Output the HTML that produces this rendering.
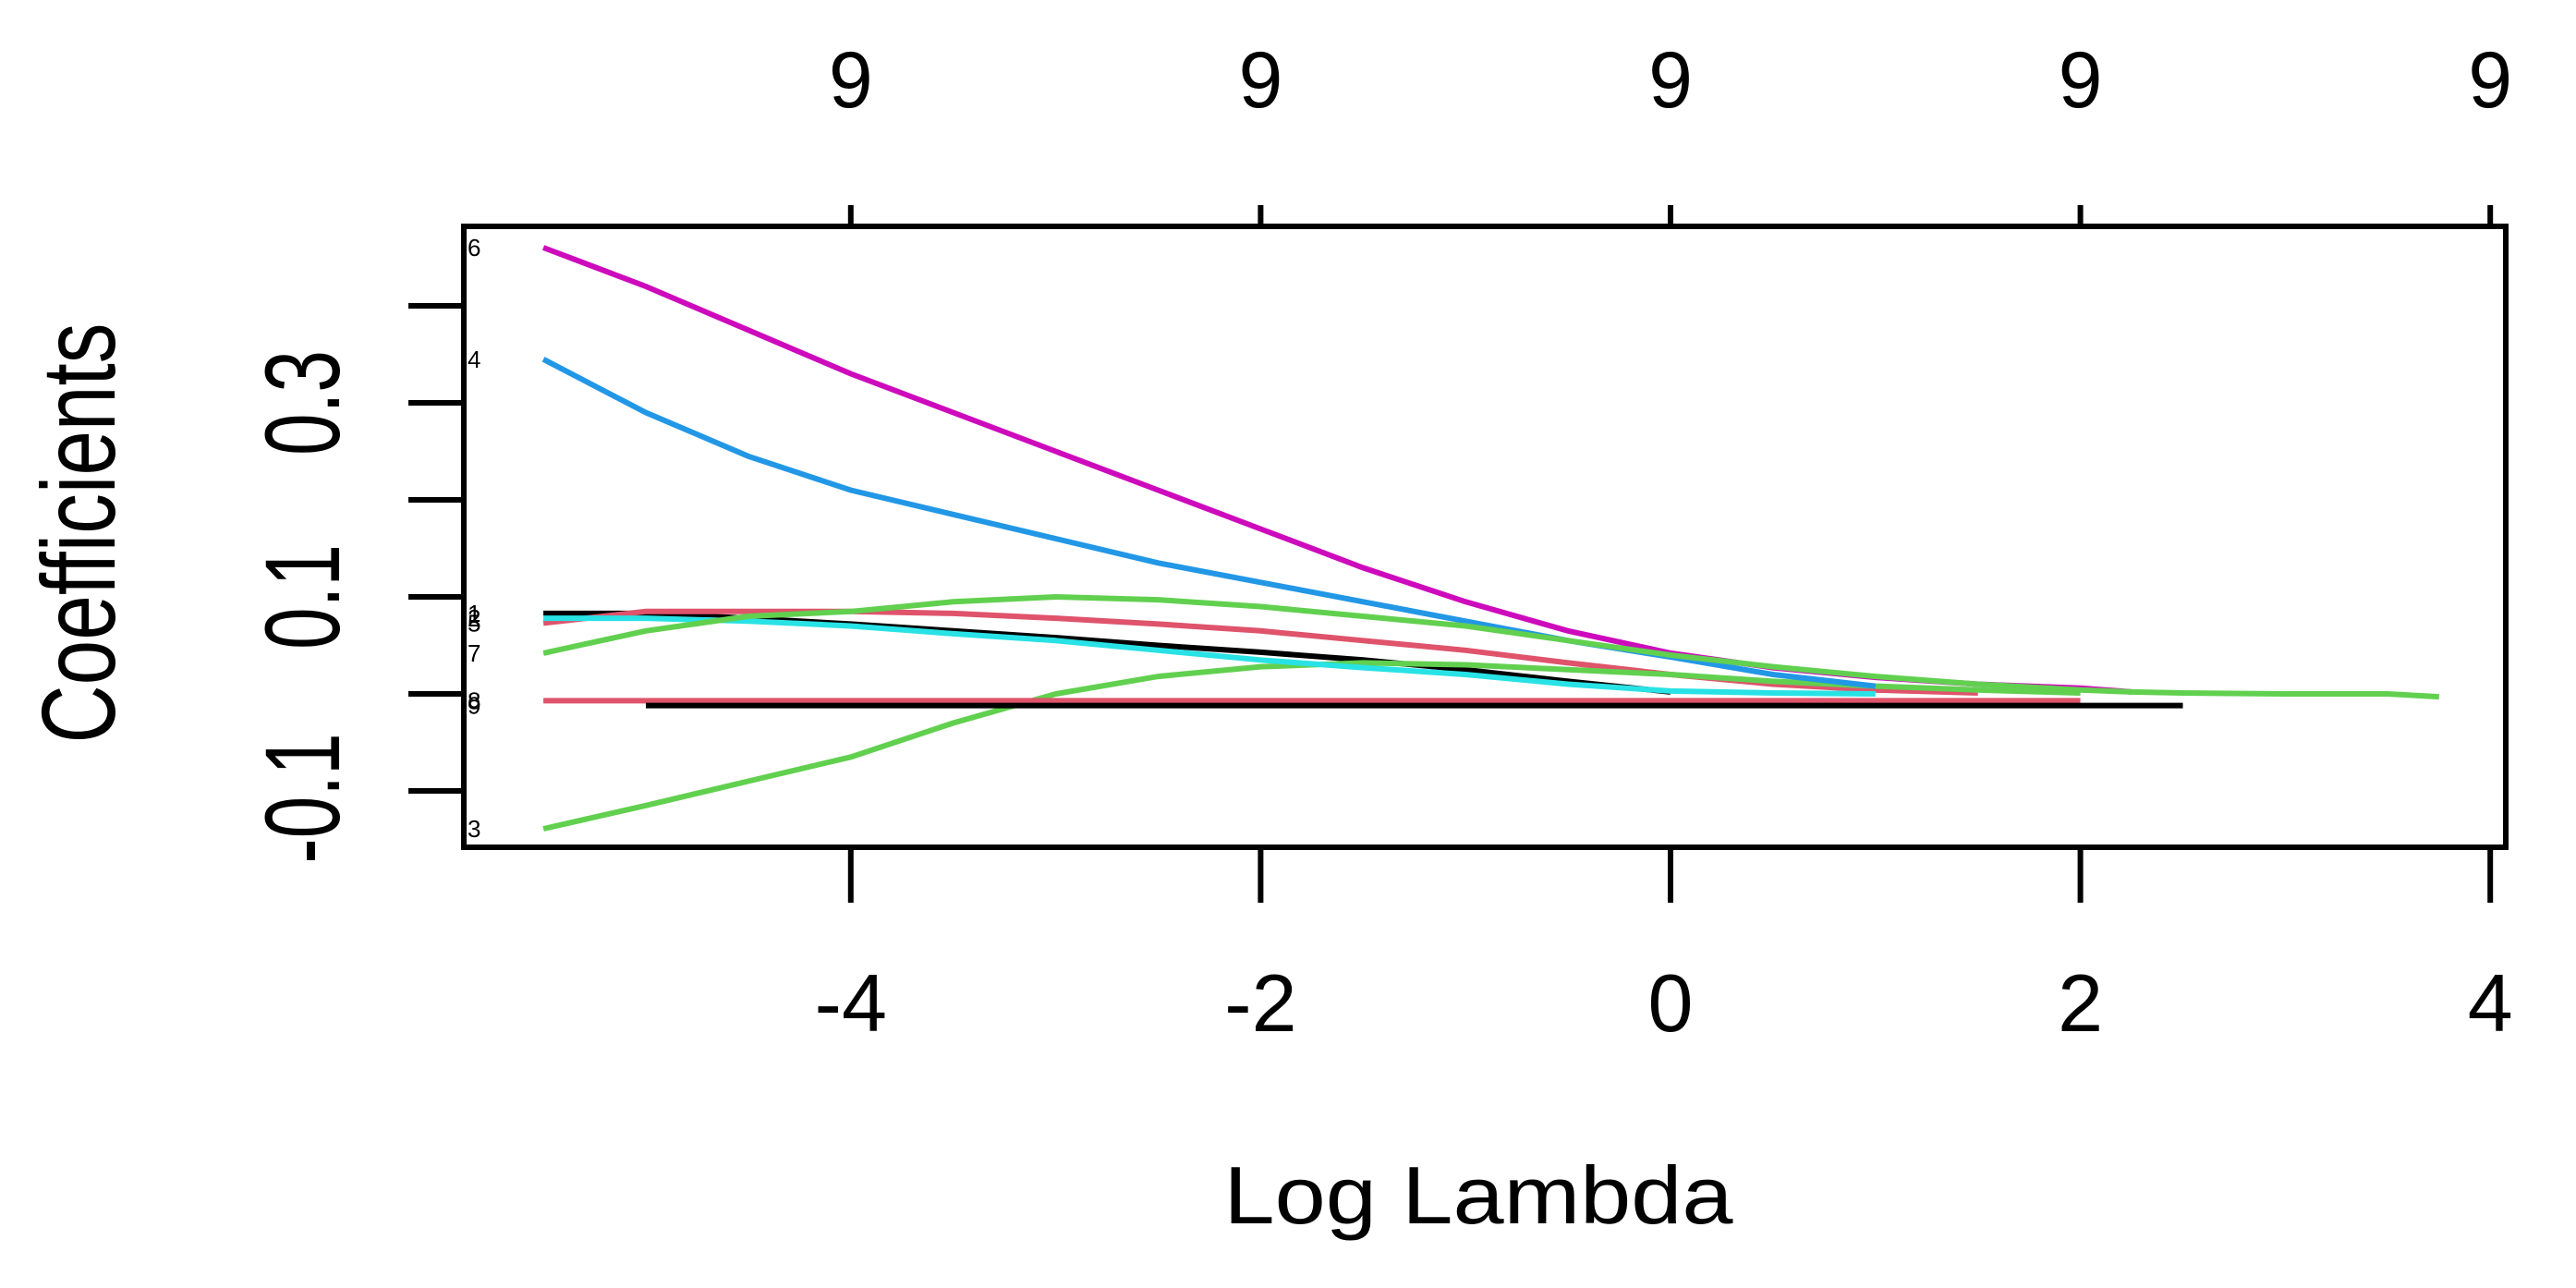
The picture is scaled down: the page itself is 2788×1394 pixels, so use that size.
<!DOCTYPE html>
<html><head><meta charset="utf-8"><style>
html,body{margin:0;padding:0;background:#fff}
svg{display:block}
text{font-family:"Liberation Sans",Arial,sans-serif;fill:#000}
</style></head><body>
<svg id="chart" width="2788" height="1394" viewBox="0 0 2788 1394" xmlns="http://www.w3.org/2000/svg">
<rect x="0" y="0" width="2788" height="1394" fill="#fff"/>
<g id="series"></g>
<g id="axes"></g>
<rect x="502" y="245" width="2210" height="672" fill="none" stroke="#000" stroke-width="6"/>
<text x="1600" y="1324" font-size="88" text-anchor="middle" textLength="551" lengthAdjust="spacingAndGlyphs">Log Lambda</text>
<text transform="translate(124,577) rotate(-90) scale(1,1.29)" font-size="88" text-anchor="middle" textLength="455" lengthAdjust="spacingAndGlyphs">Coefficients</text>
</svg>
<script>
const lambdas = [-5.5,-5,-4.5,-4,-3.5,-3,-2.5,-2,-1.5,-1,-0.5,0,0.5,1,1.5,2,2.25,2.5,3,3.5,3.75];
const magentaVals = [.46,.42,.375,.33,.29,.25,.21,.17,.13,.095,.065,.042,.027,.017,.01,.006,.002,null,null,null,null];
const blueVals = [.345,.29,.245,.21,.185,.16,.135,.115,.095,.075,.055,.038,.02,.008,null,null,null,null,null,null,null];
const greenUpVals = [.042,.065,.08,.085,.095,.1,.097,.09,.08,.07,.055,.04,.028,.018,.01,.004,.002,.001,0,0,-.003];
const greenLowVals = [-.139,-.115,-.09,-.065,-.03,0,.018,.028,.032,.03,.025,.02,.013,.008,.004,.001,null,null,null,null,null];
const black1Vals = [.083,.083,.078,.072,.065,.058,.05,.043,.035,.025,.013,.002,null,null,null,null,null,null,null,null,null];
const black0Vals = [null,-.012,-.012,-.012,-.012,-.012,-.012,-.012,-.012,-.012,-.012,-.012,-.012,-.012,-.012,-.012,-.012,-.012,null,null,null];
const red0Vals = [-.007,-.007,-.007,-.007,-.007,-.007,-.007,-.007,-.007,-.007,-.007,-.007,-.007,-.007,-.007,-.007,null,null,null,null,null];
const red1Vals = [.073,.085,.085,.085,.083,.078,.072,.065,.055,.045,.032,.02,.01,.004,.001,null,null,null,null,null,null];
const cyanVals = [.078,.078,.075,.07,.062,.055,.045,.035,.027,.02,.01,.003,.001,0,null,null,null,null,null,null,null];
const xTicks = [-4,-2,0,2,4];
const xTickLabels = ["-4","-2","0","2","4"];
const topTickLabels = ["9","9","9","9","9"];
const yTicks = [-0.1,0,0.1,0.2,0.3,0.4];
const yLabelTicks = [-0.1,0.1,0.3];
const yTickLabels = ["-0.1","0.1","0.3"];
const sideLabels = ["6","4","1","2","5","7","8","9","3"];
const sideLabelVals = [.46,.345,.083,.078,.073,.042,-.007,-.012,-.139];

const NS = "http://www.w3.org/2000/svg";
function xs(v){return 1808 + 221.8*v;}
function ys(v){return 751 - 1050*v;}
function mk(tag, attrs, parent){const e=document.createElementNS(NS,tag);for(const k in attrs)e.setAttribute(k,attrs[k]);parent.appendChild(e);return e;}
const sg = document.getElementById('series');
const ax = document.getElementById('axes');
const seriesList = [
  ['black1',black1Vals,'#000'],['red1',red1Vals,'#DF536B'],['green-lower',greenLowVals,'#61D04F'],
  ['blue',blueVals,'#2297E6'],['cyan',cyanVals,'#28E2E5'],['magenta',magentaVals,'#CD0BBC'],
  ['green-upper',greenUpVals,'#61D04F'],['red0',red0Vals,'#DF536B'],['black0',black0Vals,'#000']
];
seriesList.forEach(s=>{
  const pts=[];
  s[1].forEach((v,i)=>{ if(v!==null) pts.push(xs(lambdas[i]).toFixed(1)+','+ys(v).toFixed(1)); });
  const p = mk('polyline',{points:pts.join(' '),fill:'none',stroke:s[2],'stroke-width':6},sg);
  
  
});
xTicks.forEach((t,i)=>{
  const l = mk('line',{x1:xs(t),x2:xs(t),y1:917,y2:977,stroke:'#000','stroke-width':6},ax);
  
  
  const tx = mk('text',{x:xs(t),y:1116,'font-size':88,'text-anchor':'middle'},ax);
  tx.textContent = xTickLabels[i];
  
  
  const lt = mk('line',{x1:xs(t),x2:xs(t),y1:245,y2:222,stroke:'#000','stroke-width':6},ax);
  
  
  const tt = mk('text',{x:xs(t),y:116,'font-size':86,'text-anchor':'middle'},ax);
  tt.textContent = topTickLabels[i];
  
  
});
yTicks.forEach(t=>{
  const l = mk('line',{x1:442,x2:502,y1:ys(t),y2:ys(t),stroke:'#000','stroke-width':6},ax);
  
  
});
yLabelTicks.forEach((t,i)=>{
  const tx = mk('text',{transform:'translate(367,'+(ys(t)+(t<0?8:0))+') rotate(-90) scale(1,1.4)','font-size':82,'text-anchor':'middle'},ax);
  tx.textContent = yTickLabels[i];
  
  
});
sideLabels.forEach((s,i)=>{
  const tx = mk('text',{x:506,y:ys(sideLabelVals[i])+9,'font-size':26,fill:'#223366'},ax);
  tx.textContent = s;
  
  
});
</script>
</body></html>
